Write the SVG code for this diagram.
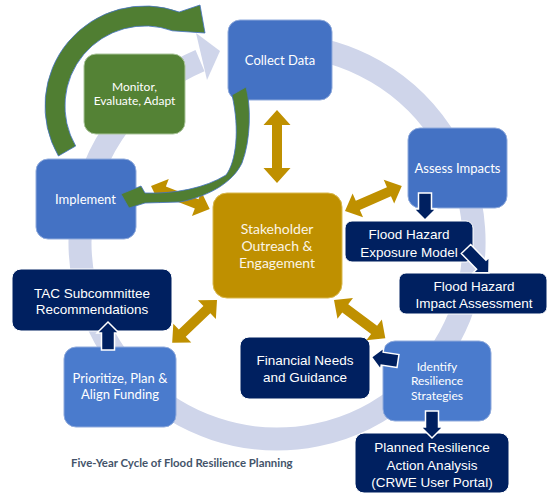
<svg xmlns="http://www.w3.org/2000/svg" width="547" height="494" viewBox="0 0 547 494">
<style>
.blue{fill:#4472C4;stroke:#8FAADC;stroke-width:1}
.blue2{fill:#4A7BCD;stroke:#8FAADC;stroke-width:1}
.navy{fill:#002060;stroke:#FFFFFF;stroke-width:1}
.cal{font-family:Lato,"Open Sans","DejaVu Sans",sans-serif;font-size:13px;fill:#FFFFFF;text-anchor:middle}
.sm{font-size:12px}
.ari{font-family:"Liberation Sans",Arial,sans-serif;font-size:13.5px;fill:#FFFFFF;text-anchor:middle}
.gold{fill:#BF9000}
.nav{fill:#002060;stroke:#FFFFFF;stroke-width:1.5}
.grn{fill:#507E32;stroke:#4472C4;stroke-width:0.8}
</style>
<rect width="547" height="494" fill="#FFFFFF"/>
<g id="cycle">
<path d="M277,45 A197,197 0 1 1 200,60.7" fill="none" stroke="#CFD5EA" stroke-width="23"/>
<polygon points="196,33 220,51 207,80" fill="#CFD5EA"/>
</g>
<g id="collect-data"><rect class="blue" x="228" y="20" width="104" height="80" rx="12"/><text class="cal" x="280" y="64.5">Collect Data</text></g>
<g id="assess-impacts"><rect class="blue" x="408" y="128" width="99" height="80" rx="12"/><text class="cal" x="457.5" y="172.5">Assess Impacts</text></g>
<g id="monitor"><rect x="84" y="54" width="101" height="80" rx="12" fill="#548235" stroke="#A9C49A" stroke-width="1"/><text class="cal sm" x="134.5" y="90.5">Monitor,</text><text class="cal sm" x="134.5" y="105">Evaluate, Adapt</text></g>
<g id="implement"><rect class="blue" x="36" y="159" width="100" height="80" rx="12"/><text class="cal" x="85.5" y="203.5">Implement</text></g>
<g id="stakeholder"><rect x="213" y="193" width="129" height="105" rx="14" fill="#BF9000" stroke="#D9B84D" stroke-width="1"/><text class="cal" x="277" y="234" style="font-size:14px;fill:#FBF5E6">Stakeholder</text><text class="cal" x="277" y="251" style="font-size:14px;fill:#FBF5E6">Outreach &amp;</text><text class="cal" x="277" y="268" style="font-size:14px;fill:#FBF5E6">Engagement</text></g>
<g id="exposure-model"><rect class="navy" x="345" y="221" width="128" height="41" rx="7"/><text class="ari" x="409" y="239">Flood Hazard</text><text class="ari" x="409" y="257">Exposure Model</text></g>
<g id="impact-assessment"><rect class="navy" x="399" y="273" width="148" height="41" rx="7"/><text class="ari" x="474" y="291">Flood Hazard</text><text class="ari" x="474" y="308">Impact Assessment</text></g>
<g id="tac"><rect class="navy" x="12" y="269" width="160" height="62" rx="9"/><text class="ari" x="92" y="298">TAC Subcommittee</text><text class="ari" x="92" y="314">Recommendations</text></g>
<g id="prioritize"><rect class="blue2" x="64" y="347" width="112" height="80" rx="12"/><text class="cal" x="120" y="383">Prioritize, Plan &amp;</text><text class="cal" x="120" y="399">Align Funding</text></g>
<g id="financial"><rect class="navy" x="240" y="337" width="130" height="62" rx="9"/><text class="ari" x="305" y="365">Financial Needs</text><text class="ari" x="305" y="382">and Guidance</text></g>
<g id="identify"><rect class="blue2" x="383" y="341" width="108" height="80" rx="12"/><text class="cal sm" x="437" y="370.5">Identify</text><text class="cal sm" x="437" y="385">Resilience</text><text class="cal sm" x="437" y="399.5">Strategies</text></g>
<g id="planned"><rect class="navy" x="355" y="433" width="154" height="60" rx="9"/><text class="ari" x="432" y="452">Planned Resilience</text><text class="ari" x="432" y="470">Action Analysis</text><text class="ari" x="432" y="487">(CRWE User Portal)</text></g>
<text x="71" y="467" style="font-family:Lato,'Open Sans',sans-serif;font-size:11.4px;font-weight:bold;fill:#44546A">Five-Year Cycle of Flood Resilience Planning</text>
<g id="connectors">
<path class="gold" transform="translate(277,110) rotate(90)" d="M0,0 L15,-13.5 L15,-5 L58,-5 L58,-13.5 L73,0 L58,13.5 L58,5 L15,5 L15,13.5 Z"/>
<path class="gold" transform="translate(151,186) rotate(21.3)" d="M0,0 L14,-13 L14,-5 L49,-5 L49,-13 L63,0 L49,13 L49,5 L14,5 L14,13 Z"/>
<path class="gold" transform="translate(345,211) rotate(-23.7)" d="M0,0 L14,-13 L14,-5 L48,-5 L48,-13 L62,0 L48,13 L48,5 L14,5 L14,13 Z"/>
<path class="gold" transform="translate(217,300) rotate(136.3)" d="M0,0 L14,-13 L14,-5 L48,-5 L48,-13 L62,0 L48,13 L48,5 L14,5 L14,13 Z"/>
<path class="gold" transform="translate(334,300) rotate(36.7)" d="M0,0 L14,-13 L14,-5 L50,-5 L50,-13 L64,0 L50,13 L50,5 L14,5 L14,13 Z"/>
<path class="nav" transform="translate(425,193) rotate(90)" d="M0,-6.5 L16,-6.5 L16,-11 L27,0 L16,11 L16,6.5 L0,6.5 Z"/>
<path class="nav" transform="translate(466,249) rotate(46)" d="M0,-6.5 L22,-6.5 L22,-11 L33,0 L22,11 L22,6.5 L0,6.5 Z"/>
<path class="nav" transform="translate(108,350) rotate(-90)" d="M0,-6.5 L17,-6.5 L17,-11 L28,0 L17,11 L17,6.5 L0,6.5 Z"/>
<path class="nav" transform="translate(398,361) rotate(188.4)" d="M0,-6.5 L16,-6.5 L16,-11 L27,0 L16,11 L16,6.5 L0,6.5 Z"/>
<path class="nav" transform="translate(432,411) rotate(90)" d="M0,-6.5 L16,-6.5 L16,-11 L27,0 L16,11 L16,6.5 L0,6.5 Z"/>
<path class="grn" d="M58.4,156 A100,100 0 0 1 179.2,12 L200,5 L205,33 L172.4,30.8 A80,80 0 0 0 75.7,146 Z"/>
<path class="grn" d="M232,95 L246,87 C251,105 251,140 242,163 C233,182 210,196 180,202 L145,203 L129,208 L121,194 L141,186 L145,193 C175,194 205,188 226,175 C236,162 240,130 232,95 Z"/>
</g>
</svg>
